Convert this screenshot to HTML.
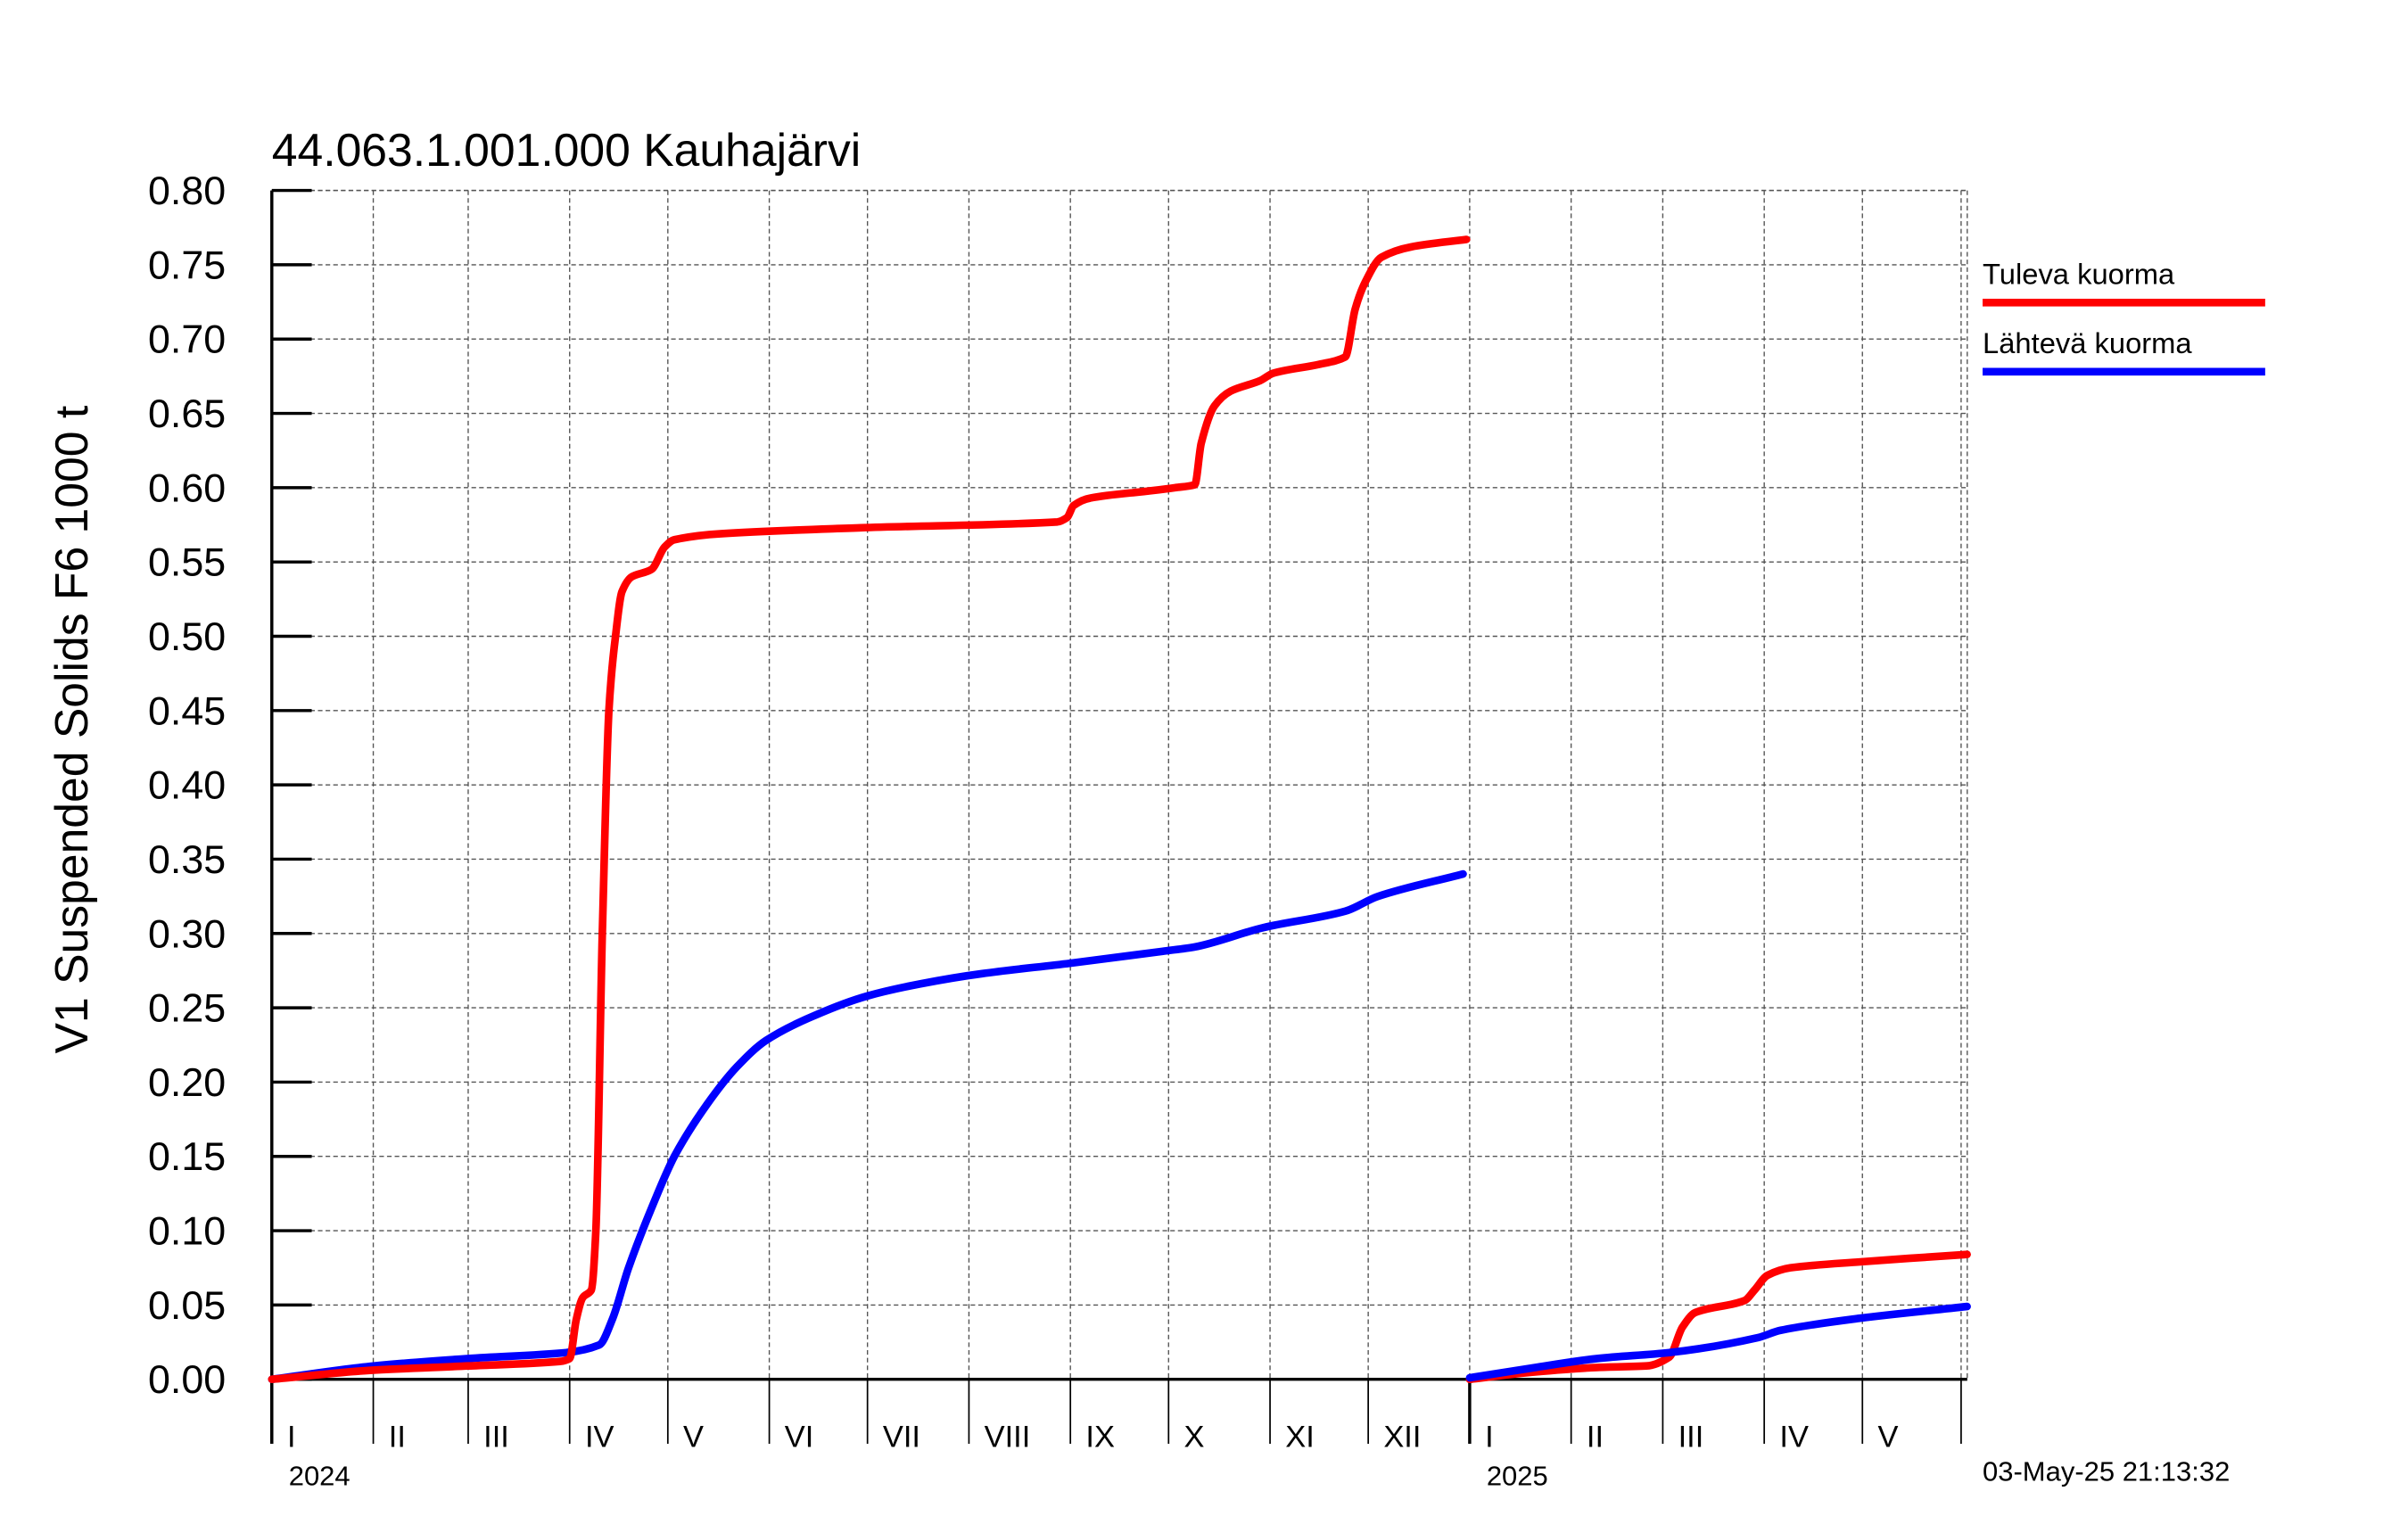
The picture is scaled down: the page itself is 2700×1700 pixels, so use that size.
<!DOCTYPE html>
<html><head><meta charset="utf-8"><style>html,body{margin:0;padding:0;background:#fff}svg{display:block}text{font-family:"Liberation Sans",sans-serif}</style></head>
<body>
<svg id="chart" width="2700" height="1700" viewBox="0 0 1568 987" preserveAspectRatio="none" xmlns="http://www.w3.org/2000/svg">
<rect width="1568" height="987" fill="#fff"/>
<text x="177" y="108" font-size="30">44.063.1.001.000 Kauhajärvi</text>
<text transform="translate(57,475) rotate(-90)" text-anchor="middle" font-size="30">V1 Suspended Solids F6 1000 t</text>
<g id="grid"></g><g id="axes"></g><g id="series"></g>
<g>
<text x="1291" y="185" font-size="19">Tuleva kuorma</text>
<line x1="1291" y1="197" x2="1475" y2="197" stroke="#ff0000" stroke-width="5"/>
<text x="1291" y="230" font-size="19">Lähtevä kuorma</text>
<line x1="1291" y1="242" x2="1475" y2="242" stroke="#0000ff" stroke-width="5"/>
</g>
<text x="1291" y="964" font-size="18">03-May-25 21:13:32</text>
</svg>
<script>
const yTicks=[0,0.05,0.1,0.15,0.2,0.25,0.3,0.35,0.4,0.45,0.5,0.55,0.6,0.65,0.7,0.75,0.8];
const monthLabels=["I","II","III","IV","V","VI","VII","VIII","IX","X","XI","XII","I","II","III","IV","V"];
const monthStartDays=[0,31,60,91,121,152,182,213,244,274,305,335,366,397,425,456,486,517];
const yearLabels=["2024","2025"];
const yearStartDays=[0,366];
const redDays2024=[0,30,60,88,91,93,95,97.6,99,101,103,105,107,110,116,120,123,137,180,240,243,245,250,269,276,282,284,288,293,302,306,320,328,331,334,339,348,365];
const redVals2024=[0,0.006,0.009,0.012,0.014,0.04,0.055,0.06,0.1,0.3,0.45,0.5,0.53,0.54,0.545,0.56,0.565,0.569,0.573,0.577,0.58,0.588,0.593,0.598,0.6,0.602,0.63,0.655,0.665,0.672,0.677,0.683,0.688,0.72,0.738,0.755,0.762,0.767];
const blueDays2024=[0,31,60,90,100,104,109,116,123,133,142,151,166,182,198,217,244,272,282,303,328,338,364];
const blueVals2024=[0,0.009,0.014,0.018,0.023,0.04,0.075,0.115,0.15,0.185,0.21,0.228,0.245,0.258,0.266,0.273,0.28,0.288,0.291,0.304,0.315,0.325,0.34];
const redDays2025=[0,20,39,54,61,65,69,84,87,91,98,119,152];
const redVals2025=[0,0.005,0.008,0.009,0.015,0.035,0.045,0.053,0.06,0.07,0.075,0.079,0.084];
const blueDays2025=[0,20,39,61,88,95,119,152];
const blueVals2025=[0.001,0.008,0.014,0.018,0.028,0.033,0.041,0.049];
const NS="http://www.w3.org/2000/svg";
const X0=177,X1=1281,Y0=898,Y1=124,PXD=780/366;
const xs=d=>X0+d*PXD;
const ys=v=>Y0-(v/0.8)*(Y0-Y1);
function mk(parent,tag,attrs){const e=document.createElementNS(NS,tag);for(const k in attrs)e.setAttribute(k,attrs[k]);document.getElementById(parent).appendChild(e);return e;}
yTicks.forEach((v,i)=>{
  const g=mk('grid','line',{x1:X0,x2:X1,y1:ys(v),y2:ys(v),stroke:'#555','stroke-width':0.8,'stroke-dasharray':'3,2'});
  
  
  const t=mk('axes','line',{x1:X0,x2:X0+26,y1:ys(v),y2:ys(v),stroke:'#000','stroke-width':2});
  
  
  const l=mk('axes','text',{x:147,y:ys(v)+9,'text-anchor':'end','font-size':26});
  l.textContent=v.toFixed(2);
  
  
});
monthStartDays.forEach((d,i)=>{
  const x=Math.min(xs(d),X1-4);
  const g=mk('grid','line',{x1:x,x2:x,y1:Y1,y2:Y0,stroke:'#555','stroke-width':0.8,'stroke-dasharray':'3,2'});
  
  
  const t=mk('axes','line',{x1:x,x2:x,y1:Y0,y2:940,stroke:'#000','stroke-width':1});
  
  
  if(i<monthLabels.length){const l=mk('axes','text',{x:xs(d)+10,y:942,'font-size':20});
  l.textContent=monthLabels[i];
  
  }
});
const rb=mk('grid','line',{x1:X1,x2:X1,y1:Y1,y2:Y0,stroke:'#555','stroke-width':0.8,'stroke-dasharray':'3,2'});


const tb=mk('grid','line',{x1:X0,x2:X1,y1:Y1,y2:Y1,stroke:'#555','stroke-width':0.8,'stroke-dasharray':'3,2'});


yearStartDays.forEach((d,i)=>{
  const x=xs(d);
  const t=mk('axes','line',{x1:x,x2:x,y1:Y0,y2:940,stroke:'#000','stroke-width':2});
  
  
  const l=mk('axes','text',{x:x+11,y:967,'font-size':18});
  l.textContent=yearLabels[i];
  
  
});
const ya=mk('axes','line',{x1:X0,x2:X0,y1:Y1,y2:940,stroke:'#000','stroke-width':2});


const xa=mk('axes','line',{x1:X0,x2:X1,y1:Y0,y2:Y0,stroke:'#000','stroke-width':2});


function monoPath(px,py){
  const n=px.length,d=[],m=[];
  for(let i=0;i<n-1;i++)d.push((py[i+1]-py[i])/(px[i+1]-px[i]||1e-6));
  m[0]=d[0];m[n-1]=d[n-2];
  for(let i=1;i<n-1;i++){m[i]=(d[i-1]*d[i]<=0)?0:2/(1/d[i-1]+1/d[i]);}
  let s='M'+px[0].toFixed(1)+','+py[0].toFixed(1);
  for(let i=0;i<n-1;i++){const h=(px[i+1]-px[i])/3;
    s+=' C'+(px[i]+h).toFixed(1)+','+(py[i]+m[i]*h).toFixed(1)+' '+(px[i+1]-h).toFixed(1)+','+(py[i+1]-m[i+1]*h).toFixed(1)+' '+px[i+1].toFixed(1)+','+py[i+1].toFixed(1);}
  return s;
}
function series(days,vals,off,color,name){
  const px=days.map(d=>xs(d+off)),py=vals.map(v=>ys(v));
  const p=mk('series','path',{d:monoPath(px,py),fill:'none',stroke:color,'stroke-width':5,'stroke-linejoin':'round','stroke-linecap':'round'});
  
  
}
series(blueDays2024,blueVals2024,0,'#0000ff','lahteva-2024-line');
series(redDays2024,redVals2024,0,'#ff0000','tuleva-2024-line');
series(redDays2025,redVals2025,366,'#ff0000','tuleva-2025-line');
series(blueDays2025,blueVals2025,366,'#0000ff','lahteva-2025-line');
</script>
</body></html>
